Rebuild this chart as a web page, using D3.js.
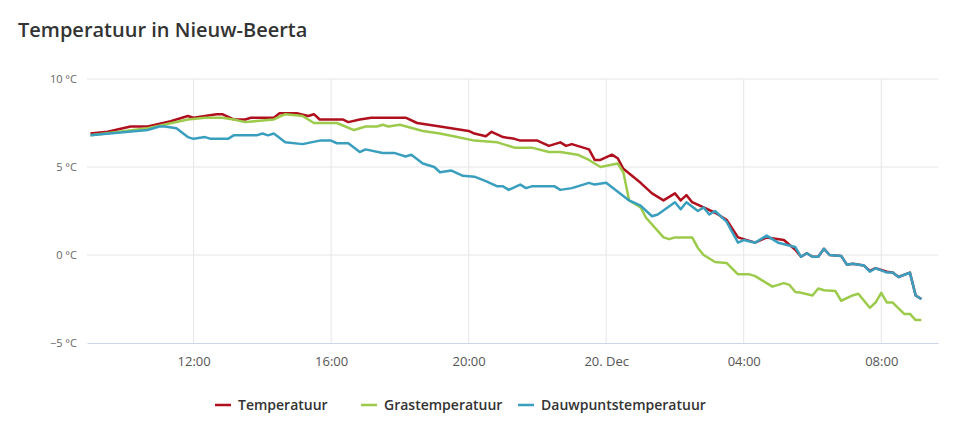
<!DOCTYPE html>
<html><head><meta charset="utf-8">
<script src="https://cdn.jsdelivr.net/npm/d3@7"></script>
<style>body{margin:0;background:#fff;font-family:"Open Sans",sans-serif;}</style>
</head><body><div id="chart"></div>
<script>
// times are "HH:MM"; after midnight they belong to 20 Dec
const tempTimes = ["09:00","09:30","10:10","10:40","11:20","11:50","12:00","12:40","12:50","13:10","13:30","13:40","14:20","14:30","15:00","15:20","15:30","15:40","16:20","16:30","16:50","17:10","17:50","18:10","18:30","19:10","20:00","20:10","20:30","20:40","21:00","21:20","21:30","22:00","22:20","22:40","22:50","23:00","23:30","23:40","23:50","+00:10","+00:20","+00:30","+01:00","+01:20","+01:40","+02:00","+02:10","+02:20","+02:30","+02:50","+03:10","+03:30","+03:50","+04:00","+04:20","+04:40","+05:10","+05:30","+05:40","+05:50","+06:00","+06:10","+06:20","+06:30","+06:50","+07:00","+07:10","+07:30","+07:40","+07:50","+08:10","+08:20","+08:30","+08:50","+09:00","+09:10"];
const tempValues = [6.9,7.0,7.3,7.3,7.6,7.9,7.8,8.0,8.0,7.7,7.7,7.8,7.8,8.05,8.05,7.9,8.0,7.7,7.7,7.55,7.7,7.8,7.8,7.8,7.5,7.3,7.05,6.9,6.75,7.0,6.7,6.6,6.5,6.5,6.2,6.4,6.2,6.3,6.0,5.4,5.4,5.7,5.5,4.9,4.1,3.5,3.1,3.5,3.1,3.4,3.0,2.7,2.4,2.0,1.0,0.9,0.7,1.0,0.85,0.3,-0.1,0.1,-0.1,-0.1,0.35,0.0,-0.05,-0.55,-0.5,-0.6,-0.9,-0.75,-0.95,-1.0,-1.25,-1.0,-2.3,-2.5];

const grassTimes = ["09:00","10:40","11:50","12:20","12:50","13:10","13:30","14:20","14:40","15:10","15:30","16:10","16:40","17:00","17:20","17:30","17:40","18:00","18:40","19:10","19:40","20:10","20:50","21:20","21:50","22:20","22:40","23:10","23:30","23:50","+00:20","+00:30","+00:40","+01:00","+01:10","+01:40","+01:50","+02:00","+02:30","+02:40","+02:50","+03:10","+03:30","+03:50","+04:10","+04:20","+04:50","+05:10","+05:20","+05:30","+05:40","+06:00","+06:10","+06:20","+06:40","+06:50","+07:10","+07:20","+07:40","+07:50","+08:00","+08:10","+08:20","+08:40","+08:50","+09:00","+09:10"];
const grassValues = [6.8,7.2,7.7,7.8,7.8,7.7,7.55,7.7,8.0,7.9,7.5,7.5,7.1,7.3,7.3,7.4,7.3,7.4,7.05,6.9,6.7,6.5,6.4,6.1,6.1,5.85,5.85,5.7,5.4,5.0,5.2,4.7,3.1,2.7,2.1,1.0,0.9,1.0,1.0,0.4,0.0,-0.4,-0.45,-1.1,-1.1,-1.2,-1.8,-1.6,-1.7,-2.1,-2.15,-2.3,-1.9,-2.0,-2.05,-2.6,-2.3,-2.2,-3.0,-2.7,-2.15,-2.7,-2.7,-3.35,-3.35,-3.7,-3.7];

const dewTimes = ["09:00","10:40","11:00","11:10","11:30","11:50","12:00","12:20","12:30","13:00","13:10","13:50","14:00","14:10","14:20","14:40","15:10","15:40","16:00","16:10","16:30","16:50","17:00","17:30","17:50","18:10","18:20","18:40","19:00","19:10","19:30","19:50","20:10","20:30","20:50","21:00","21:10","21:30","21:40","21:50","22:30","22:40","23:00","23:30","23:40","+00:00","+00:40","+01:00","+01:20","+01:30","+02:00","+02:10","+02:20","+02:40","+02:50","+03:00","+03:10","+03:30","+03:50","+04:00","+04:20","+04:40","+05:00","+05:30","+05:40","+05:50","+06:00","+06:10","+06:20","+06:30","+06:50","+07:00","+07:10","+07:30","+07:40","+07:50","+08:10","+08:20","+08:30","+08:50","+09:00","+09:10"];
const dewValues = [6.8,7.1,7.3,7.3,7.2,6.7,6.6,6.7,6.6,6.6,6.8,6.8,6.9,6.8,6.9,6.4,6.3,6.5,6.5,6.35,6.35,5.85,6.0,5.8,5.8,5.6,5.7,5.2,5.0,4.7,4.8,4.5,4.45,4.2,3.9,3.9,3.7,4.0,3.8,3.9,3.9,3.7,3.8,4.1,4.0,4.1,3.1,2.8,2.2,2.3,3.0,2.6,3.0,2.5,2.7,2.3,2.5,1.9,0.7,0.85,0.7,1.1,0.7,0.45,-0.1,0.1,-0.1,-0.1,0.35,0.0,-0.05,-0.55,-0.5,-0.6,-0.95,-0.75,-1.0,-1.0,-1.25,-1.0,-2.3,-2.5];

const yTicks = [-5, 0, 5, 10];
const xTicks = ["12:00","16:00","20:00","+00:00","+04:00","+08:00"];
const seriesNames = ["Temperatuur","Grastemperatuur","Dauwpuntstemperatuur"];
const colors = ["#b0101e","#9ccb4c","#3a9fbf"];

const parseT = s => {
  const next = s.startsWith("+");
  const [h, m] = s.replace("+","").split(":").map(Number);
  return new Date(2019, 11, next ? 20 : 19, h, m);
};
const zip = (ts, vs) => ts.map((t, i) => ({ t: parseT(t), v: vs[i] }));
const series = [zip(tempTimes,tempValues), zip(grassTimes,grassValues), zip(dewTimes,dewValues)];

const W = 958, H = 433;
const margin = { top: 79, right: 20, bottom: 90, left: 87 };
const width = W - margin.left - margin.right;
const height = H - margin.top - margin.bottom;

const svgRoot = d3.select("#chart").append("svg").attr("width", W).attr("height", H);
svgRoot.append("text").attr("x", 18).attr("y", 37)
  .style("font-size", "20px").style("font-weight", 600).style("fill", "#333").text("Temperatuur in Nieuw-Beerta");

const svg = svgRoot.append("g").attr("transform", `translate(${margin.left},${margin.top})`);

const x = d3.scaleTime().domain([new Date(2019,11,19,8,54), new Date(2019,11,20,9,39)]).range([0, width]);
const y = d3.scaleLinear().domain([-5, 10]).range([height, 0]);

// grid
svg.selectAll(".hg").data(yTicks.filter(d => d > -5)).enter().append("line")
  .attr("x1", 0).attr("x2", width).attr("y1", d => y(d)).attr("y2", d => y(d))
  .attr("stroke", "#e6e6e6");
svg.selectAll(".vg").data(xTicks.map(parseT)).enter().append("line")
  .attr("x1", d => x(d)).attr("x2", d => x(d)).attr("y1", 0).attr("y2", height)
  .attr("stroke", "#e6e6e6");

// x axis
const xa = svg.append("g").attr("transform", `translate(0,${height})`)
  .call(d3.axisBottom(x).tickValues(xTicks.map(parseT))
    .tickFormat(d => d.getHours() === 0 ? "20. Dec" : d3.timeFormat("%H:%M")(d))
    .tickSize(0).tickPadding(14));
xa.select(".domain").attr("stroke", "#ccd6eb");
xa.selectAll("text").style("font-size", "13px").style("fill", "#555").style("font-family", "Open Sans");

// y axis labels
const ya = svg.append("g").call(d3.axisLeft(y).tickValues(yTicks).tickFormat(d => (d < 0 ? "\u2212" + (-d) : d) + " \u00b0C").tickSize(0).tickPadding(10));
ya.select(".domain").remove();
ya.selectAll("text").style("font-size", "11px").style("fill", "#666").style("font-family", "Open Sans");

const line = d3.line().x(d => x(d.t)).y(d => y(d.v));
[0, 1, 2].forEach(i => {
  svg.append("path").datum(series[i]).attr("d", line)
    .attr("fill", "none").attr("stroke", colors[i]).attr("stroke-width", 2.5)
    .attr("stroke-linejoin", "round");
});

// legend
const legend = svgRoot.append("g").attr("transform", `translate(0,405)`);
const offsets = [215, 361, 518];
seriesNames.forEach((n, i) => {
  const g = legend.append("g").attr("transform", `translate(${offsets[i]},0)`);
  g.append("line").attr("x1", 0).attr("x2", 16).attr("stroke", colors[i]).attr("stroke-width", 2.5);
  g.append("text").attr("x", 23).attr("y", 5).style("font-size", "14px").style("font-weight", 600)
    .style("fill", "#333").text(n);
});
</script></body></html>
